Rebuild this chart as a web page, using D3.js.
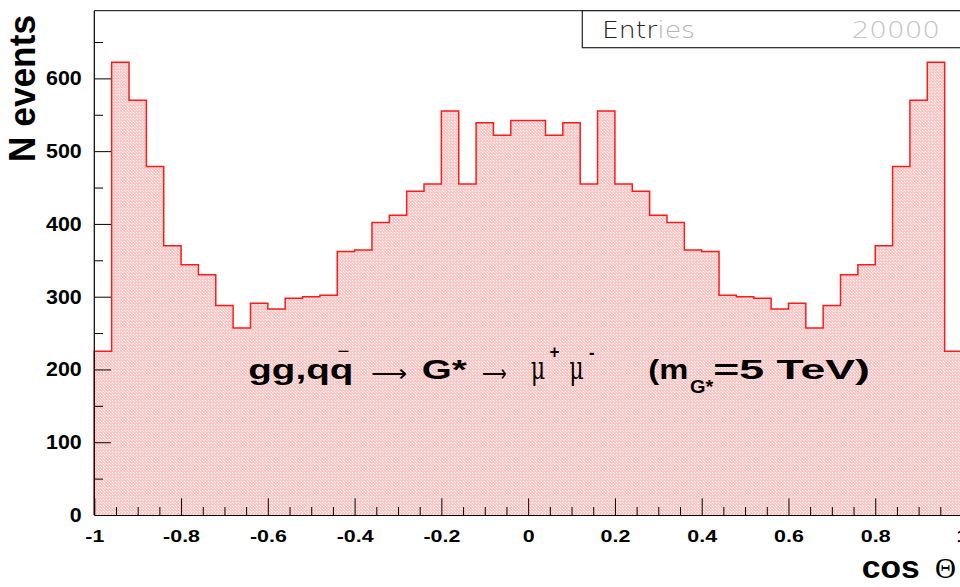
<!DOCTYPE html>
<html>
<head>
<meta charset="utf-8">
<script src="https://cdn.jsdelivr.net/npm/d3@7"></script>
<style>
  html, body { margin: 0; padding: 0; background: #fff; overflow: hidden; }
  svg { display: block; }
</style>
</head>
<body>
<svg id="chart" width="960" height="587"></svg>
<script>
// cos(theta) distribution of the muons, 50 bins of width 0.04 on [-1, 1]
const binLow = -1;
const binWidth = 0.04;
const counts = [
  225, 622, 570, 479, 370, 344, 330, 288, 257, 291,
  283, 298, 300, 302, 362, 364, 402, 412, 445, 455,
  555, 455, 539, 522, 542, 542, 522, 539, 455, 555,
  455, 445, 412, 402, 364, 362, 302, 300, 298, 283,
  291, 257, 288, 330, 344, 370, 479, 570, 622, 225
];
const entries = 20000;

const xMajorTicks = [-1, -0.8, -0.6, -0.4, -0.2, 0, 0.2, 0.4, 0.6, 0.8, 1];
const xMajorLabels = ["-1", "-0.8", "-0.6", "-0.4", "-0.2", "0", "0.2", "0.4", "0.6", "0.8", "1"];
const xMinorTicks = [-0.95, -0.9, -0.85, -0.75, -0.7, -0.65, -0.55, -0.5, -0.45,
  -0.35, -0.3, -0.25, -0.15, -0.1, -0.05, 0.05, 0.1, 0.15, 0.25, 0.3, 0.35,
  0.45, 0.5, 0.55, 0.65, 0.7, 0.75, 0.85, 0.9, 0.95];
const yMajorTicks = [0, 100, 200, 300, 400, 500, 600];
const yMinorTicks = [50, 150, 250, 350, 450, 550, 650];
const yMax = 693;

const svg = d3.select("#chart");
const x = d3.scaleLinear().domain([-1, 1]).range([94.3, 962]);
const y = d3.scaleLinear().domain([0, yMax]).range([515, 10.7]);

// fine cross-hatch fill
const defs = svg.append("defs");
const pat = defs.append("pattern")
  .attr("id", "hatch").attr("patternUnits", "userSpaceOnUse")
  .attr("width", 3).attr("height", 3);
pat.append("rect").attr("width", 3).attr("height", 3).attr("fill", "#ffc6c6");
pat.append("rect").attr("x", 1).attr("y", 1).attr("width", 1).attr("height", 1).attr("fill", "#ffffff");
pat.append("rect").attr("x", 2).attr("y", 2).attr("width", 1).attr("height", 1).attr("fill", "#ffeeee");

// histogram points: left edge of each bin with its count, closed at both ends
const pts = [[binLow, 0]];
counts.forEach((c, i) => pts.push([binLow + i * binWidth, c]));
pts.push([binLow + counts.length * binWidth, counts[counts.length - 1]]);
pts.push([binLow + counts.length * binWidth, 0]);

const area = d3.area()
  .x(d => x(d[0])).y0(y(0)).y1(d => y(d[1]))
  .curve(d3.curveStepAfter);
const line = d3.line()
  .x(d => x(d[0])).y(d => y(d[1]))
  .curve(d3.curveStepAfter);

svg.append("path").datum(pts).attr("d", area).attr("fill", "url(#hatch)");
svg.append("path").datum(pts).attr("d", line)
  .attr("fill", "none").attr("stroke", "#ff1a1a").attr("stroke-width", 1.5);

// frame top edge
svg.append("line")
  .attr("x1", x(-1)).attr("x2", x(1))
  .attr("y1", y(yMax)).attr("y2", y(yMax))
  .attr("stroke", "#000").attr("stroke-width", 1);

// x axis: major ticks with labels, minor ticks without
const xAxisMajor = d3.axisBottom(x).tickValues(xMajorTicks)
  .tickSizeInner(-16.7).tickSizeOuter(0)
  .tickFormat((d, i) => xMajorLabels[i]);
const gx = svg.append("g").attr("transform", `translate(0,${y(0)})`).call(xAxisMajor);
gx.select(".domain").attr("stroke", "#000").attr("stroke-width", 1.2);
gx.selectAll(".tick line").attr("stroke", "#000").attr("stroke-width", 1);
gx.selectAll(".tick text")
  .attr("y", 27.3).attr("dy", 0)
  .attr("font-family", "Liberation Sans, Arial, sans-serif")
  .attr("font-weight", "bold").attr("font-size", 17)
  .attr("fill", "#000")
  .attr("transform", "scale(1.26,1)");

const gxm = svg.append("g").attr("transform", `translate(0,${y(0)})`)
  .call(d3.axisBottom(x).tickValues(xMinorTicks).tickSizeInner(-8).tickSizeOuter(0).tickFormat(""));
gxm.select(".domain").remove();
gxm.selectAll(".tick line").attr("stroke", "#000").attr("stroke-width", 1);

// y axis
const yLabelScale = 1.07;
const yAxisMajor = d3.axisLeft(y).tickValues(yMajorTicks)
  .tickSizeInner(-16.7).tickSizeOuter(0).tickPadding(12.6)
  .tickFormat(d3.format("d"));
const gy = svg.append("g").attr("transform", `translate(${x(-1)},0)`).call(yAxisMajor);
gy.select(".domain").attr("stroke", "#000").attr("stroke-width", 1.2)
  .attr("d", `M0,${y(0)}V${y(yMax)}`);
gy.selectAll(".tick line").attr("stroke", "#000").attr("stroke-width", 1);
gy.selectAll(".tick text")
  .attr("x", -12.6 / yLabelScale)
  .attr("font-family", "Liberation Sans, Arial, sans-serif")
  .attr("font-weight", "bold").attr("font-size", 20)
  .attr("fill", "#000")
  .attr("transform", `scale(${yLabelScale},1)`);

const gym = svg.append("g").attr("transform", `translate(${x(-1)},0)`)
  .call(d3.axisLeft(y).tickValues(yMinorTicks).tickSizeInner(-8.7).tickSizeOuter(0).tickFormat(""));
gym.select(".domain").remove();
gym.selectAll(".tick line").attr("stroke", "#000").attr("stroke-width", 1);

// axis titles
svg.append("text")
  .attr("transform", "translate(35,162) rotate(-90)")
  .attr("font-family", "Liberation Sans, Arial, sans-serif")
  .attr("font-weight", "bold").attr("font-size", 37)
  .attr("textLength", 147).attr("lengthAdjust", "spacingAndGlyphs")
  .attr("fill", "#000")
  .text("N events");

svg.append("text")
  .attr("x", 861.7).attr("y", 578.3)
  .attr("font-family", "Liberation Sans, Arial, sans-serif")
  .attr("font-weight", "bold").attr("font-size", 32)
  .attr("textLength", 58).attr("lengthAdjust", "spacingAndGlyphs")
  .attr("fill", "#000")
  .text("cos");
svg.append("text")
  .attr("x", 935).attr("y", 578.3)
  .attr("font-family", "Liberation Serif, Times New Roman, serif")
  .attr("font-size", 29)
  .attr("fill", "#000")
  .text("\u0398");

// statistics box
svg.append("rect")
  .attr("x", 582.3).attr("y", 10.7).attr("width", 420).attr("height", 37)
  .attr("fill", "#fff").attr("stroke", "#222").attr("stroke-width", 1.2);
const ent = svg.append("text")
  .attr("x", 602).attr("y", 38.3)
  .attr("font-family", "DejaVu Sans, sans-serif")
  .attr("font-weight", 200).attr("font-size", 23)
  .attr("textLength", 93).attr("lengthAdjust", "spacingAndGlyphs");
ent.append("tspan").attr("fill", "#222").text("Entr");
ent.append("tspan").attr("fill", "#b4b4b4").text("ies");
svg.append("text")
  .attr("x", 851.7).attr("y", 38.3)
  .attr("font-family", "DejaVu Sans, sans-serif")
  .attr("font-weight", 200).attr("font-size", 23)
  .attr("textLength", 88.3).attr("lengthAdjust", "spacingAndGlyphs")
  .attr("fill", "#c4c4c4")
  .text(String(entries));

// process label
const bold = "Liberation Sans, Arial, sans-serif";
const serif = "DejaVu Serif, Liberation Serif, serif";
const sym = "DejaVu Sans, sans-serif";
const label = svg.append("g").attr("fill", "#000");
function piece(txt, x0, len, base, size, family, weight) {
  const t = label.append("text")
    .attr("x", x0).attr("y", base)
    .attr("font-family", family).attr("font-size", size)
    .attr("font-weight", weight || "normal")
    .text(txt);
  if (len) t.attr("textLength", len).attr("lengthAdjust", "spacingAndGlyphs");
  return t;
}
piece("gg,qq", 248.3, 105, 379, 27, bold, "bold");
label.append("line")
  .attr("x1", 338.5).attr("x2", 348.5).attr("y1", 351.3).attr("y2", 351.3)
  .attr("stroke", "#000").attr("stroke-width", 1.3);
piece("\u27f6", 370.7, 36, 382, 26, sym, 200);
piece("G*", 421.7, 45, 379, 27, bold, "bold");
piece("\u27f6", 481.7, 24.5, 382, 26, sym, 200);
piece("\u03bc", 530.7, 14.5, 379, 31, serif);
piece("+", 549.5, 10, 358, 19, bold, "bold");
piece("\u03bc", 569.3, 14.5, 379, 31, serif);
piece("-", 589, 5.5, 359, 19, bold, "bold");
piece("(m", 648.3, 40, 379, 27, bold, "bold");
piece("G*", 690, 23.3, 393.3, 18.5, bold, "bold");
piece("=5 TeV)", 713.3, 156.7, 379, 27, bold, "bold");
</script>
</body>
</html>
